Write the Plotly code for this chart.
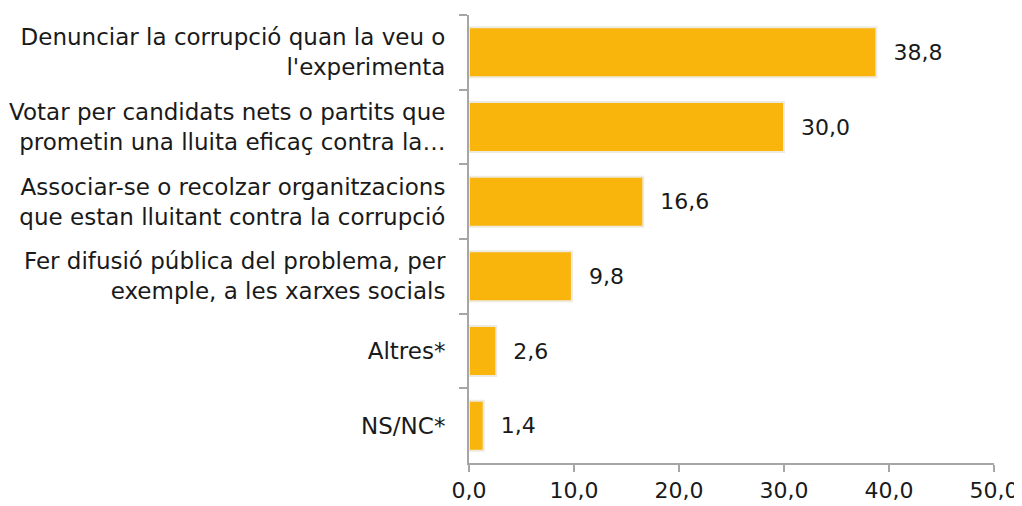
import plotly.graph_objects as go

categories = [
    "Denunciar la corrupció quan la veu o<br>l'experimenta",
    "Votar per candidats nets o partits que<br>prometin una lluita eficaç contra la…",
    "Associar-se o recolzar organitzacions<br>que estan lluitant contra la corrupció",
    "Fer difusió pública del problema, per<br>exemple, a les xarxes socials",
    "Altres*",
    "NS/NC*",
]
values = [38.8, 30.0, 16.6, 9.8, 2.6, 1.4]
x_ticks = [0, 10, 20, 30, 40, 50]

labels = ["\u00a0\u00a0" + f"{v:.1f}".replace(".", ",") for v in values]

fig = go.Figure()
fig.add_trace(go.Bar(
    y=categories,
    x=values,
    orientation="h",
    marker=dict(color="#F9B50C", line=dict(color="#EEEAE0", width=2)),
    text=labels,
    textposition="outside",
    textfont=dict(size=22, color="#1a1a1a"),
    cliponaxis=False,
))

# page body has an 8px margin, so the figure is 16px smaller and margins shifted
fig.update_layout(
    width=1014,
    height=498,
    margin=dict(l=461, r=28, t=7, b=43),
    paper_bgcolor="white",
    plot_bgcolor="white",
    font=dict(family="DejaVu Sans", size=23, color="#1a1a1a"),
    separators=",.",
    bargap=0.33,
    showlegend=False,
)
fig.update_xaxes(
    range=[0, 50],
    tickvals=x_ticks,
    tickformat=".1f",
    tickfont=dict(size=22),
    automargin=False,
    showgrid=False,
    zeroline=False,
    showline=True,
    linecolor="#A6A6A6",
    linewidth=2,
    ticks="outside",
    tickcolor="#A6A6A6",
    ticklen=7,
    tickwidth=2,
)
fig.update_yaxes(
    autorange="reversed",
    type="category",
    automargin=False,
    showgrid=False,
    showline=True,
    linecolor="#A6A6A6",
    linewidth=2,
    ticks="outside",
    tickson="boundaries",
    tickcolor="#A6A6A6",
    ticklen=8,
    tickwidth=2,
    ticklabelstandoff=17,
)

fig.write_html("out.html")
